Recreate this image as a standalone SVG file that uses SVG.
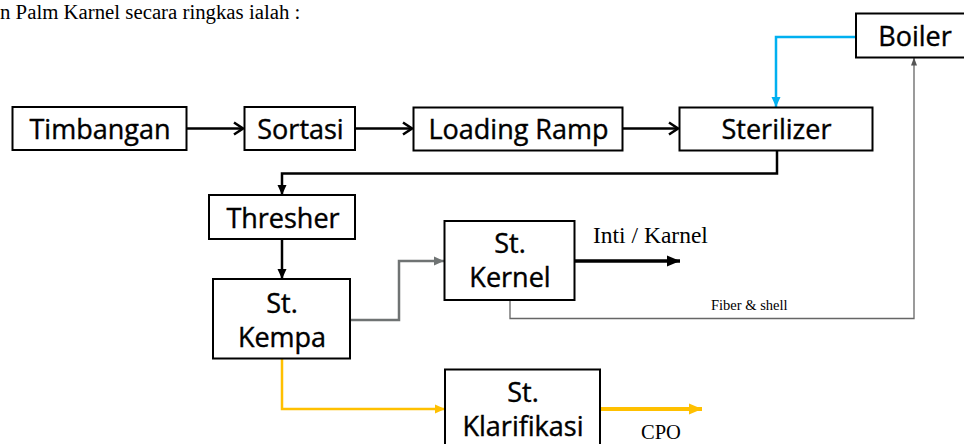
<svg xmlns="http://www.w3.org/2000/svg" width="964" height="444" viewBox="0 0 964 444">
<style>
.box{fill:#fff;stroke:#000;stroke-width:2}
.lbl{font-family:"Open Sans","Noto Sans",sans-serif;font-size:27px;fill:#000;stroke:#000;stroke-width:0.4;text-anchor:middle}
.ser{font-family:"Liberation Serif","Times New Roman",serif;fill:#000}
.c{fill:none;stroke-linejoin:miter}
</style>
<defs>
<marker id="chev" markerUnits="userSpaceOnUse" markerWidth="14" markerHeight="16" refX="12" refY="8" orient="auto">
<polyline points="3,2 12,8 3,14" fill="none" stroke="#000" stroke-width="2.5"/>
</marker>
<marker id="tb" markerUnits="userSpaceOnUse" markerWidth="12" markerHeight="12" refX="10" refY="6" orient="auto">
<path d="M0,1.5 L10,6 L0,10.5 Z" fill="#000"/>
</marker>
<marker id="tbBig" markerUnits="userSpaceOnUse" markerWidth="14" markerHeight="14" refX="13" refY="7" orient="auto">
<path d="M0,1.5 L13,7 L0,12.5 Z" fill="#000"/>
</marker>
<marker id="tg" markerUnits="userSpaceOnUse" markerWidth="12" markerHeight="12" refX="10" refY="6" orient="auto">
<path d="M0,1.5 L10,6 L0,10.5 Z" fill="#6f7373"/>
</marker>
<marker id="ty" markerUnits="userSpaceOnUse" markerWidth="12" markerHeight="12" refX="10" refY="6" orient="auto">
<path d="M0,1.5 L10,6 L0,10.5 Z" fill="#FFC000"/>
</marker>
<marker id="tyBig" markerUnits="userSpaceOnUse" markerWidth="14" markerHeight="14" refX="13" refY="7" orient="auto">
<path d="M0,1.5 L13,7 L0,12.5 Z" fill="#FFC000"/>
</marker>
<marker id="tbl" markerUnits="userSpaceOnUse" markerWidth="12" markerHeight="12" refX="10" refY="6" orient="auto">
<path d="M0,1.5 L10,6 L0,10.5 Z" fill="#00B0F0"/>
</marker>
<marker id="tt" markerUnits="userSpaceOnUse" markerWidth="10" markerHeight="10" refX="8" refY="5" orient="auto">
<path d="M0,2 L8,5 L0,8 Z" fill="#555"/>
</marker>
</defs>

<text class="ser" x="0" y="18.5" font-size="20.8">n Palm Karnel secara ringkas ialah :</text>

<g id="connectors">
<path class="c" d="M187,128.5 H243" stroke="#000" stroke-width="2.5" marker-end="url(#chev)"/>
<path class="c" d="M355,128.5 H412" stroke="#000" stroke-width="2.5" marker-end="url(#chev)"/>
<path class="c" d="M622.5,128.5 H678" stroke="#000" stroke-width="2.5" marker-end="url(#chev)"/>
<path class="c" d="M856,37 H776 V107" stroke="#00B0F0" stroke-width="2.5" marker-end="url(#tbl)"/>
<path class="c" d="M777,150.5 V173.5 H282 V195" stroke="#000" stroke-width="2.5" marker-end="url(#tb)"/>
<path class="c" d="M282,239 V279" stroke="#000" stroke-width="2.5" marker-end="url(#tb)"/>
<path class="c" d="M350,320 H399 V261 H444" stroke="#6f7373" stroke-width="2.5" marker-end="url(#tg)"/>
<path class="c" d="M574.5,261 H680" stroke="#000" stroke-width="3.5" marker-end="url(#tbBig)"/>
<path class="c" d="M510,300 V318.5 H914 V57.5" stroke="#666" stroke-width="1.3" marker-end="url(#tt)"/>
<path class="c" d="M282,359 V409 H445" stroke="#FFC000" stroke-width="2.5" marker-end="url(#ty)"/>
<path class="c" d="M600,409 H702" stroke="#FFC000" stroke-width="4" marker-end="url(#tyBig)"/>
</g>

<g id="boiler"><rect class="box" x="856" y="13.5" width="120" height="44"/><text class="lbl" x="915" y="46">Boiler</text></g>
<g id="timbangan"><rect class="box" x="12.5" y="107" width="174" height="43"/><text class="lbl" x="100" y="139">Timbangan</text></g>
<g id="sortasi"><rect class="box" x="244.5" y="107" width="110.5" height="43"/><text class="lbl" x="300.5" y="139">Sortasi</text></g>
<g id="loading-ramp"><rect class="box" x="413.5" y="107.5" width="209" height="43"/><text class="lbl" x="518.5" y="139">Loading Ramp</text></g>
<g id="sterilizer"><rect class="box" x="679.5" y="107.5" width="193" height="43"/><text class="lbl" x="776.5" y="139">Sterilizer</text></g>
<g id="thresher"><rect class="box" x="209" y="195" width="146" height="44"/><text class="lbl" x="283" y="228">Thresher</text></g>
<g id="st-kempa"><rect class="box" x="213" y="279" width="137" height="79.5"/><text class="lbl" x="282" y="313">St.</text><text class="lbl" x="282" y="347">Kempa</text></g>
<g id="st-kernel"><rect class="box" x="444.5" y="221" width="130" height="79"/><text class="lbl" x="510" y="253">St.</text><text class="lbl" x="510" y="287">Kernel</text></g>
<g id="st-klarifikasi"><rect class="box" x="445" y="369.5" width="155" height="90"/><text class="lbl" x="523" y="401.5">St.</text><text class="lbl" x="523" y="435.5">Klarifikasi</text></g>

<text class="ser" x="593" y="243" font-size="23.5">Inti / Karnel</text>
<text class="ser" x="711" y="310" font-size="14.5">Fiber &amp; shell</text>
<text class="ser" x="641" y="439" font-size="20.5">CPO</text>
</svg>
